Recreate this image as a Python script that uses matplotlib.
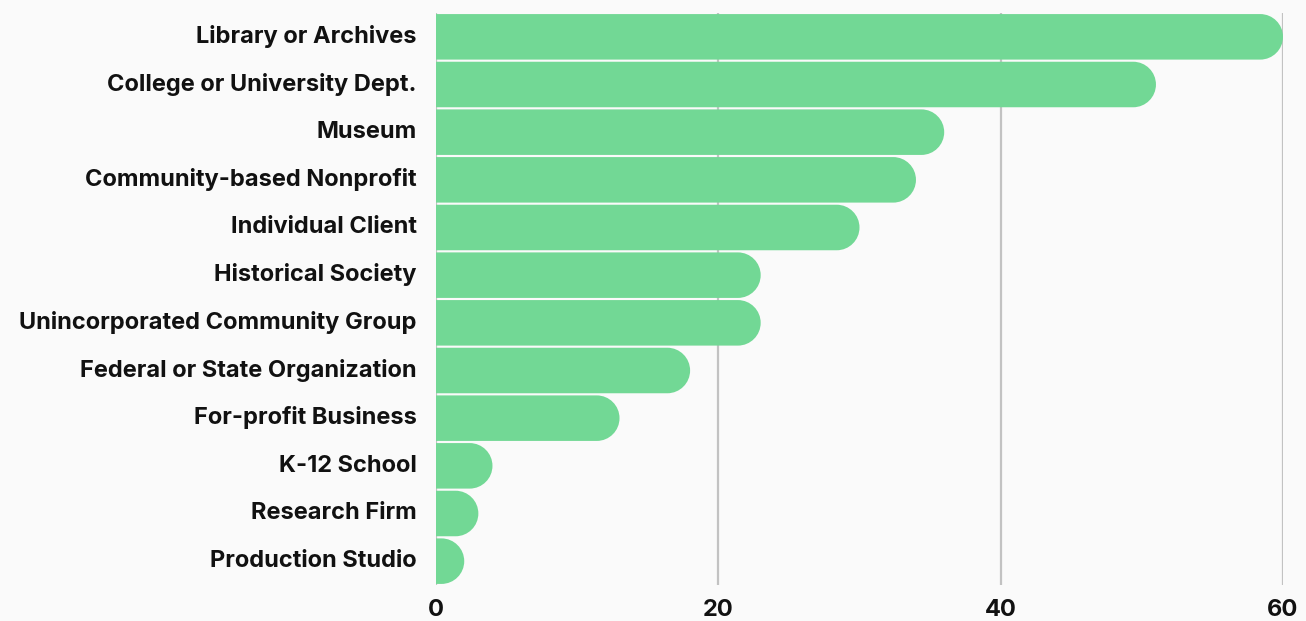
import numpy as np
import matplotlib.pyplot as plt
import matplotlib.transforms as mtransforms
from matplotlib.path import Path
from matplotlib.patches import PathPatch

categories = ['Library or Archives', 'College or University Dept.', 'Museum',
              'Community-based Nonprofit', 'Individual Client', 'Historical Society',
              'Unincorporated Community Group', 'Federal or State Organization',
              'For-profit Business', 'K-12 School', 'Research Firm', 'Production Studio']
values = [60, 51, 36, 34, 30, 23, 23, 18, 13, 4, 3, 2]
xticks = [0, 20, 40, 60]

bg = '#fafafa'
bar_color = '#72d895'
plt.rcParams['font.family'] = ['Inter', 'DejaVu Sans']

W, H, DPI = 13.06, 6.21, 100
fig = plt.figure(figsize=(W, H), dpi=DPI, facecolor=bg)
left, right, bottom, top = 436 / 1306, 1283 / 1306, 1 - 585 / 621, 1 - 13 / 621
ax = fig.add_axes([left, bottom, right - left, top - bottom], facecolor=bg)

n = len(categories)
ax.set_xlim(0, 60)
ax.set_ylim(n - 0.5, -0.5)

# pixel scale so the round caps come out as true semicircles
px_x = (right - left) * W * DPI / 60
px_y = (top - bottom) * H * DPI / n
bh = 0.955
rx = (bh / 2) * px_y / px_x
ry = bh / 2

k = 0.5523
for i, v in enumerate(values):
    x0, x1 = 0, v - rx
    yt, yb = i - ry, i + ry
    verts = [(x0, yt), (x1, yt),
             (x1 + k * rx, yt), (v, i - k * ry), (v, i),
             (v, i + k * ry), (x1 + k * rx, yb), (x1, yb),
             (x0, yb), (x0, yt)]
    codes = [Path.MOVETO, Path.LINETO,
             Path.CURVE4, Path.CURVE4, Path.CURVE4,
             Path.CURVE4, Path.CURVE4, Path.CURVE4,
             Path.LINETO, Path.CLOSEPOLY]
    ax.add_patch(PathPatch(Path(verts, codes), facecolor=bar_color, edgecolor='none', zorder=3))

for t in xticks:
    ax.axvline(t, color='#c2c2c2', lw=1.6, zorder=1)

ax.set_yticks(range(n))
ax.set_yticklabels(categories, fontsize=17, fontweight='bold', color='#111111')
ax.set_xticks(xticks)
ax.set_xticklabels([str(t) for t in xticks], fontsize=17, fontweight='bold', color='#111111')
ax.tick_params(axis='y', length=0, pad=14)
ax.tick_params(axis='x', length=0, pad=10)
for s in ax.spines.values():
    s.set_visible(False)

# nudge category labels up a little
shift = mtransforms.ScaledTranslation(0, 2 / 72, fig.dpi_scale_trans)
for lab in ax.get_yticklabels():
    lab.set_transform(lab.get_transform() + shift)

fig.savefig('out.png', dpi=DPI, facecolor=bg)
